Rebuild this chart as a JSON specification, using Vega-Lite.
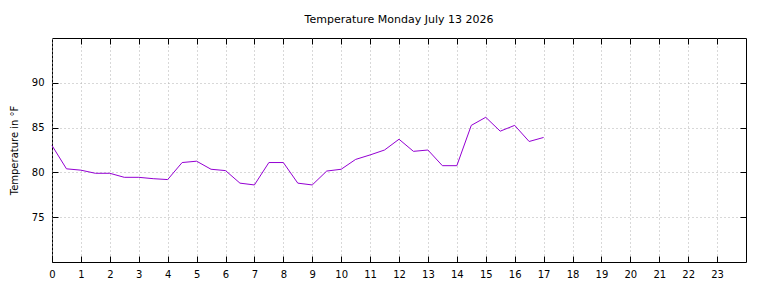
{
  "$schema": "https://vega.github.io/schema/vega-lite/v6.json",
  "width": 694,
  "height": 224,
  "autosize": {"type": "none"},
  "padding": {"left": 52, "top": 38, "right": 22, "bottom": 26},
  "background": "white",
  "title": {"text": "Temperature Monday July 13 2026", "font": "DejaVu Sans", "fontSize": 11, "fontWeight": "normal", "color": "black", "offset": 13, "anchor": "middle"},
  "config": {
    "view": {"stroke": "black", "strokeWidth": 1},
    "axis": {
      "labelFont": "DejaVu Sans", "labelFontSize": 10, "labelColor": "black",
      "titleFont": "DejaVu Sans", "titleFontSize": 10, "titleFontWeight": "normal", "titleColor": "black",
      "domain": false, "tickColor": "black", "tickSize": -6,
      "gridColor": "#b0b0b0", "gridDash": [1, 3], "gridWidth": 1
    }
  },
  "data": {"values": [
    {"hour": 0, "temp": 83.0}, {"hour": 0.5, "temp": 80.4}, {"hour": 1, "temp": 80.25}, {"hour": 1.5, "temp": 79.9},
    {"hour": 2, "temp": 79.9}, {"hour": 2.5, "temp": 79.45}, {"hour": 3, "temp": 79.45}, {"hour": 3.5, "temp": 79.3},
    {"hour": 4, "temp": 79.2}, {"hour": 4.5, "temp": 81.1}, {"hour": 5, "temp": 81.25}, {"hour": 5.5, "temp": 80.35},
    {"hour": 6, "temp": 80.2}, {"hour": 6.5, "temp": 78.8}, {"hour": 7, "temp": 78.6}, {"hour": 7.5, "temp": 81.1},
    {"hour": 8, "temp": 81.1}, {"hour": 8.5, "temp": 78.8}, {"hour": 9, "temp": 78.6}, {"hour": 9.5, "temp": 80.15},
    {"hour": 10, "temp": 80.35}, {"hour": 10.5, "temp": 81.45}, {"hour": 11, "temp": 81.95}, {"hour": 11.5, "temp": 82.5},
    {"hour": 12, "temp": 83.7}, {"hour": 12.5, "temp": 82.35}, {"hour": 13, "temp": 82.5}, {"hour": 13.5, "temp": 80.75},
    {"hour": 14, "temp": 80.75}, {"hour": 14.5, "temp": 85.25}, {"hour": 15, "temp": 86.15}, {"hour": 15.5, "temp": 84.6},
    {"hour": 16, "temp": 85.25}, {"hour": 16.5, "temp": 83.45}, {"hour": 17, "temp": 83.9}
  ]},
  "layer": [
    {
      "mark": {"type": "line", "color": "#9400d3", "strokeWidth": 1},
      "encoding": {
        "x": {"field": "hour", "type": "quantitative", "scale": {"domain": [0, 24], "nice": false},
              "axis": {"orient": "bottom", "values": [0,1,2,3,4,5,6,7,8,9,10,11,12,13,14,15,16,17,18,19,20,21,22,23], "title": null, "labelPadding": 13, "labelFlush": false}},
        "y": {"field": "temp", "type": "quantitative", "scale": {"domain": [70, 95], "nice": false, "zero": false},
              "axis": {"orient": "left", "values": [75, 80, 85, 90], "title": "Temperature in °F", "labelPadding": 14, "titlePadding": 12}}
      }
    },
    {
      "mark": {"type": "line", "opacity": 0},
      "encoding": {
        "x": {"field": "hour", "type": "quantitative",
              "axis": {"orient": "top", "values": [1,2,3,4,5,6,7,8,9,10,11,12,13,14,15,16,17,18,19,20,21,22,23], "labels": false, "grid": false, "title": null}},
        "y": {"field": "temp", "type": "quantitative",
              "axis": {"orient": "right", "values": [75, 80, 85, 90], "labels": false, "grid": false, "title": null}}
      }
    }
  ]
}
